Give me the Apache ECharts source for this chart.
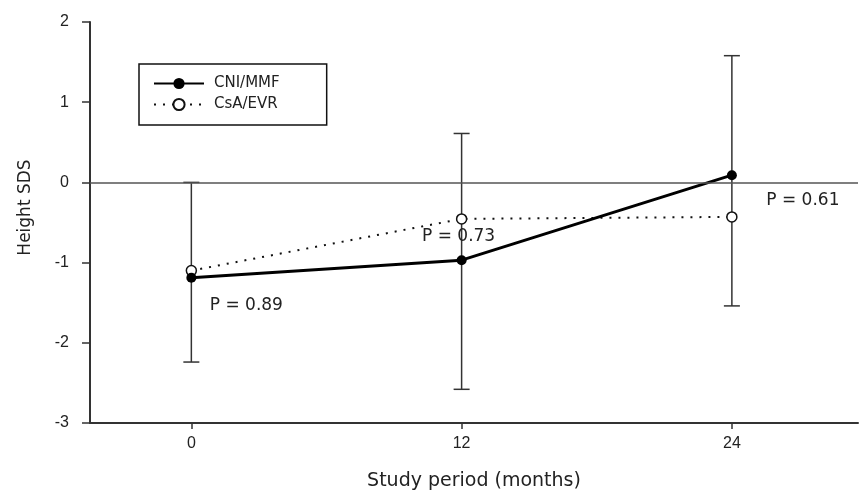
<!DOCTYPE html>
<html>
<head>
<meta charset="utf-8">
<script src="https://cdn.jsdelivr.net/npm/echarts@6/dist/echarts.min.js"></script>
<style>html,body{margin:0;padding:0;background:#fff;}#c{width:859px;height:496px;}</style>
</head>
<body>
<div id="c"></div>
<script>
// ---- data ----
const months = [0, 12, 24];
const xTicks = [0, 12, 24];
const cniMean = [-1.19, -0.97, 0.09];
const csaMean = [-1.10, -0.455, -0.43];
const errLow = [-2.24, -2.58, -1.54];
const errHigh = [0.0, 0.61, 1.58];
const pTexts = ['P = 0.89', 'P = 0.73', 'P = 0.61'];
const seriesNames = ['CNI/MMF', 'CsA/EVR'];

const ink = '#222';
const chart = echarts.init(document.getElementById('c'), null, {renderer: 'canvas'});

const errData = months.map((m, i) => [m, errLow[i], errHigh[i]]);
const pOffsets = [[55, 28], [-3, 18], [71, -16]];
const csaData = months.map((m, i) => ({value: [m, csaMean[i]]}));
const cniLab = months.map((m, i) => ({value: [m, cniMean[i]]}));
// attach P-value labels
cniLab[0].label = {show: true, formatter: pTexts[0], position: 'inside', offset: pOffsets[0]};
csaData[1].label = {show: true, formatter: pTexts[1], position: 'inside', offset: pOffsets[1]};
csaData[2].label = {show: true, formatter: pTexts[2], position: 'inside', offset: pOffsets[2]};

const pLabelStyle = {fontFamily: 'DejaVu Sans', fontSize: 17, color: ink};

chart.setOption({
  backgroundColor: '#fff',
  animation: false,
  grid: {left: 90, right: 1, top: 22, bottom: 68},
  legend: {
    orient: 'vertical',
    left: 139, top: 64,
    padding: [12, 47, 13, 14],
    itemWidth: 50, itemHeight: 14, itemGap: 6,
    borderColor: '#111', borderWidth: 1.5,
    data: seriesNames,
    textStyle: {fontFamily: 'DejaVu Sans', fontSize: 15, color: ink, padding: [0, 0, 0, 5]}
  },
  xAxis: {
    type: 'value', min: -4.5, max: 29.6,
    name: 'Study period (months)', nameLocation: 'middle', nameGap: 49,
    nameTextStyle: {fontFamily: 'DejaVu Sans', fontSize: 19, color: ink},
    axisLine: {show: true, onZero: false, lineStyle: {color: '#333', width: 2}},
    axisTick: {show: true, customValues: xTicks, length: 6, lineStyle: {color: '#333', width: 1.5}},
    axisLabel: {customValues: xTicks, margin: 13, fontFamily: 'Liberation Sans', fontSize: 16, color: ink},
    splitLine: {show: false}
  },
  yAxis: {
    type: 'value', min: -3, max: 2, interval: 1,
    name: 'Height SDS', nameLocation: 'middle', nameGap: 56,
    nameTextStyle: {fontFamily: 'DejaVu Sans', fontSize: 17, color: ink, padding: [0, 0, 0, 30]},
    axisLine: {show: true, onZero: false, lineStyle: {color: '#333', width: 2}},
    axisTick: {show: true, length: 8, lineStyle: {color: '#333', width: 1.5}},
    axisLabel: {margin: 21, fontFamily: 'Liberation Sans', fontSize: 16, color: ink},
    splitLine: {show: false}
  },
  series: [
    {
      type: 'custom',
      name: 'err',
      z: 1,
      silent: true,
      data: errData,
      renderItem: function (params, api) {
        const x = api.value(0);
        const lo = api.coord([x, api.value(1)]);
        const hi = api.coord([x, api.value(2)]);
        const hw = 8;
        const st = {stroke: '#333', lineWidth: 1.5};
        return {
          type: 'group',
          children: [
            {type: 'line', shape: {x1: lo[0], y1: lo[1], x2: hi[0], y2: hi[1]}, style: st},
            {type: 'line', shape: {x1: lo[0] - hw, y1: lo[1], x2: lo[0] + hw, y2: lo[1]}, style: st},
            {type: 'line', shape: {x1: hi[0] - hw, y1: hi[1], x2: hi[0] + hw, y2: hi[1]}, style: st}
          ]
        };
      },
      markLine: {
        silent: true,
        symbol: 'none',
        label: {show: false},
        lineStyle: {color: '#555', width: 1.5, type: 'solid'},
        data: [{yAxis: 0}]
      }
    },
    {
      type: 'line',
      name: seriesNames[1],
      z: 3,
      data: csaData,
      symbol: 'circle',
      symbolSize: 10,
      lineStyle: {color: '#111', width: 2, type: [2, 7]},
      itemStyle: {color: '#fff', borderColor: '#111', borderWidth: 1.5},
      label: pLabelStyle
    },
    {
      type: 'line',
      name: seriesNames[0],
      z: 4,
      data: cniLab,
      symbol: 'circle',
      symbolSize: 10,
      lineStyle: {color: '#000', width: 3},
      itemStyle: {color: '#000'},
      label: pLabelStyle
    }
  ]
});
</script>
</body>
</html>
